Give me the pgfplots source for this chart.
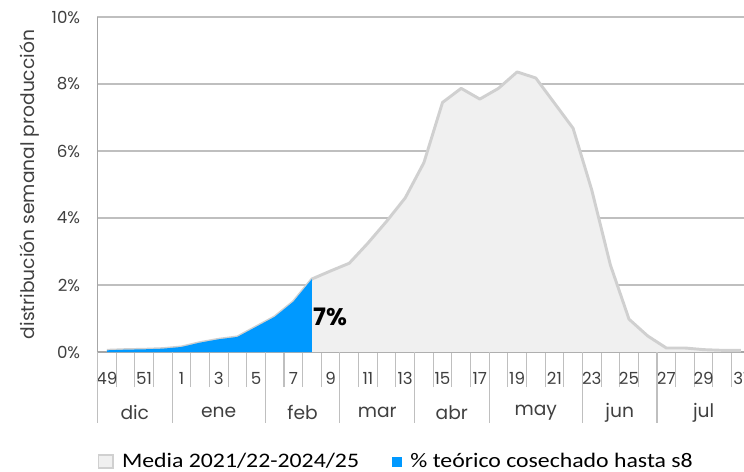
\documentclass[border=0pt]{standalone}
\usepackage{pgfplots}
\pgfplotsset{compat=1.18}
\usepackage{fontspec}
\setmainfont{Poppins}
\newfontfamily\calibri[FakeStretch=1.15]{Carlito}
\definecolor{areagray}{RGB}{240,240,240}
\definecolor{linegray}{RGB}{208,208,208}
\definecolor{gridgray}{RGB}{191,191,191}
\definecolor{axisgray}{RGB}{166,166,166}
\definecolor{txtgray}{RGB}{64,64,64}
\definecolor{harvblue}{RGB}{0,153,255}
\pgfplotstableread{
x y
0 0.05
1 0.07
2 0.08
3 0.10
4 0.15
5 0.28
6 0.38
7 0.45
8 0.75
9 1.05
10 1.50
11 2.18
12 2.42
13 2.65
14 3.25
15 3.90
16 4.60
17 5.65
18 7.45
19 7.87
20 7.55
21 7.87
22 8.36
23 8.18
24 7.43
25 6.68
26 4.84
27 2.60
28 0.98
29 0.48
30 0.12
31 0.12
32 0.07
33 0.05
34 0.05
}\media
\pgfplotstableread{
x y
0 0.05
1 0.07
2 0.08
3 0.10
4 0.15
5 0.28
6 0.38
7 0.45
8 0.75
9 1.05
10 1.50
11 2.18
}\cosechado
\begin{document}
\begin{tikzpicture}
\begin{axis}[
 at={(0pt,0pt)}, anchor=south west,
 scale only axis, width=489.56pt, height=251.25pt,
 xmin=-0.5, xmax=34.5, ymin=0, ymax=10,
 clip=false,
 axis lines*=left,
 axis line style={draw=axisgray, line width=1pt},
 ymajorgrids, grid style={draw=gridgray, line width=0.8pt},
 ytick={0,2,4,6,8,10}, yticklabels={0\%,2\%,4\%,6\%,8\%,10\%},
 yticklabel style={font=\fontsize{12.5}{13}\selectfont, text=txtgray, xshift=-9.5pt},
 ytick style={draw=none},
 xtick={0,2,...,34},
 xticklabels={49,51,1,3,5,7,9,11,13,15,17,19,21,23,25,27,29,31},
 xticklabel style={font=\fontsize{12.5}{13}\selectfont, text=txtgray, anchor=center, yshift=-19.5pt},
 major tick length=0pt,
 minor xtick={-0.5,0.5,...,34.5},
 minor tick length=26.25pt,
 tick align=outside,
 minor x tick style={draw=gridgray, line width=0.8pt},
 extra x ticks={-0.5,3.5,8.5,12.5,16.5,20.5,25.5,29.5},
 extra x tick labels={},
 extra x tick style={major tick length=53pt, major x tick style={draw=gridgray, line width=0.8pt}},
 ylabel={distribución semanal producción},
 ylabel style={at={(axis description cs:-0.1034,0.5)}, anchor=center, font=\fontsize{14}{15}\selectfont, text=txtgray},
 legend style={at={(axis description cs:0.0,-0.327)}, anchor=west, draw=none, fill=none,
   legend columns=2, font=\calibri\fontsize{15.5}{17}\selectfont,
   /tikz/every odd column/.append style={column sep=4pt},
   /tikz/every even column/.append style={column sep=23pt}, inner sep=0pt},
 legend cell align=left,
]
\addplot[fill=areagray, draw=none,
  legend image code/.code={\draw[fill=areagray, draw=linegray, line width=1.2pt] (0pt,-4.9pt) rectangle (11pt,4.9pt);}]
  table[x=x,y=y]{\media} \closedcycle;
\addlegendentry{Media 2021/22-2024/25}
\addplot[draw=linegray, line width=2.2pt, line join=round, forget plot] table[x=x,y=y]{\media};
\addplot[fill=harvblue, draw=none,
  legend image code/.code={\fill[harvblue] (1pt,-3.75pt) rectangle (8.5pt,3.75pt);}]
  table[x=x,y=y]{\cosechado} \closedcycle;
\addlegendentry{\% teórico cosechado hasta s8}
\node[font=\bfseries\fontsize{18}{20}\selectfont, text=black] at (axis cs:11.97,1.04) {7\%};
\node[font=\fontsize{14}{15}\selectfont, text=txtgray, yshift=-45.5pt] at (axis cs:1.5,0) {dic};
\node[font=\fontsize{14}{15}\selectfont, text=txtgray, yshift=-45.5pt] at (axis cs:6,0) {ene};
\node[font=\fontsize{14}{15}\selectfont, text=txtgray, yshift=-45.5pt] at (axis cs:10.5,0) {feb};
\node[font=\fontsize{14}{15}\selectfont, text=txtgray, yshift=-45.5pt] at (axis cs:14.5,0) {mar};
\node[font=\fontsize{14}{15}\selectfont, text=txtgray, yshift=-45.5pt] at (axis cs:18.5,0) {abr};
\node[font=\fontsize{14}{15}\selectfont, text=txtgray, yshift=-45.5pt] at (axis cs:23,0) {may};
\node[font=\fontsize{14}{15}\selectfont, text=txtgray, yshift=-45.5pt] at (axis cs:27.5,0) {jun};
\node[font=\fontsize{14}{15}\selectfont, text=txtgray, yshift=-45.5pt] at (axis cs:32,0) {jul};
\end{axis}
\fill[white] (364.1pt,255pt) rectangle (500pt,270pt);
\pgfresetboundingbox
\path[use as bounding box] (-73.125pt,-90pt) rectangle (484.875pt,264pt);
\end{tikzpicture}
\end{document}
